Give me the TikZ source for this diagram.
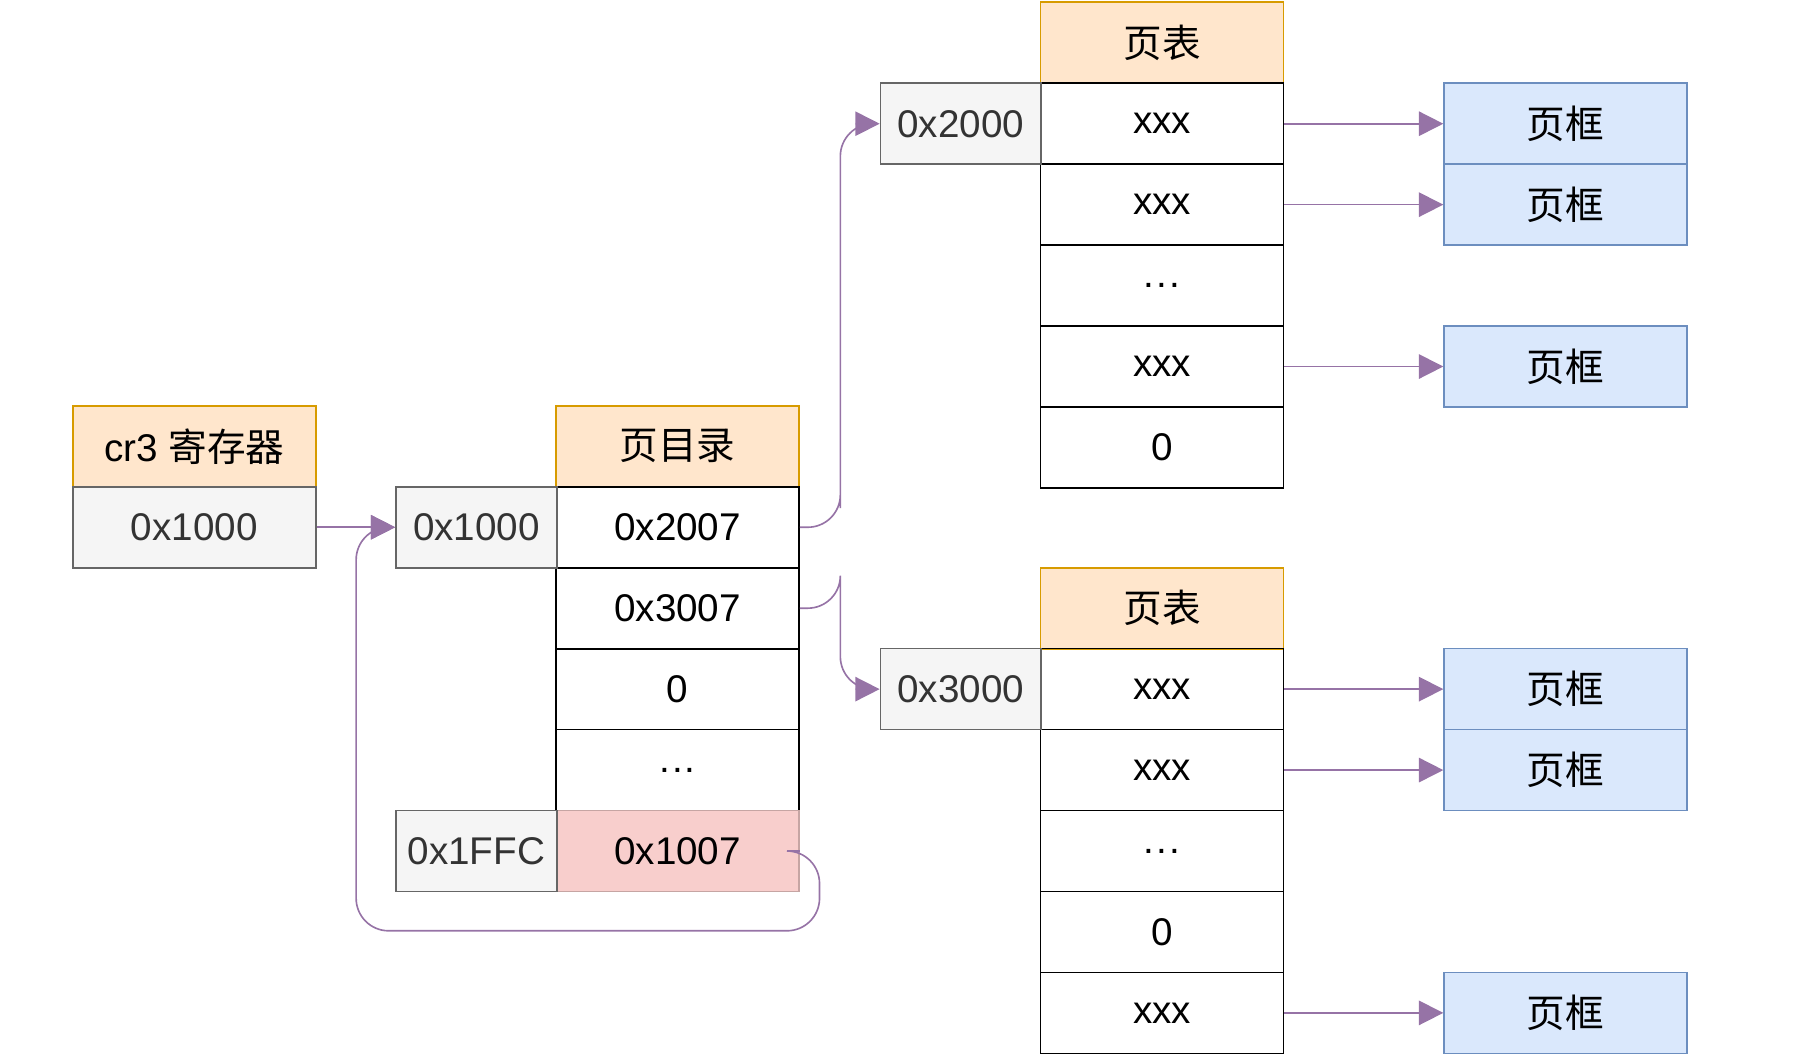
\documentclass[tikz,border=0pt]{standalone}
\usepackage{fontspec}
\setmainfont{Liberation Sans}
\newfontfamily\cjk{Noto Sans CJK SC}
\usetikzlibrary{arrows.meta,positioning}
\definecolor{hdfill}{HTML}{FFE6CC}\definecolor{hdline}{HTML}{D79B00}
\definecolor{adfill}{HTML}{F5F5F5}\definecolor{adline}{HTML}{666666}
\definecolor{pkfill}{HTML}{F8CECC}
\definecolor{frfill}{HTML}{DAE8FC}\definecolor{frline}{HTML}{6C8EBF}
\definecolor{arr}{HTML}{9673A6}
\newcommand{\dts}{.\kern0.5pt.\kern0.5pt.}
\tikzset{
  cell/.style={draw,minimum width=2.1cm,minimum height=0.7cm,inner sep=0pt,font=\fontsize{9.5}{11}\selectfont},
  head/.style={cell,fill=hdfill,draw=hdline,font=\fontsize{9.5}{11}\selectfont\cjk},
  addr/.style={cell,minimum width=1.39cm,fill=adfill,draw=adline,text=black!80},
  frame/.style={cell,fill=frfill,draw=frline,font=\fontsize{9.5}{11}\selectfont\cjk},
  link/.style={draw=arr,-{Triangle[length=6pt,width=6pt]},rounded corners=8pt}
}
\begin{document}
\begin{tikzpicture}[x=0.01cm,y=-0.01cm]
\useasboundingbox (0,0) rectangle (1555,913);
% cr3
\node[head,font=\fontsize{9.5}{11}\selectfont] (cr3) at (168,386) {cr3 {\cjk 寄存器}};
\node[addr,minimum width=2.1cm] (cr3v) at (168,456) {0x1000};
% page directory
\node[head] (dirh) at (586,386) {页目录};
\foreach \t [count=\n] in {0x2007,0x3007,0,\dts,0x1007}
  \node[cell] (dir\n) at (586,386+70*\n) {\t};
\node[cell,fill=pkfill,draw=pkfill!80!black] at (dir5) {0x1007};
\node[addr] (d1) at (412,456) {0x1000};
\node[addr] (d5) at (412,736) {0x1FFC};
% page table 1
\node[head] (tah) at (1005,37) {页表};
\foreach \t [count=\n] in {xxx,xxx,\dts,xxx,0}
  \node[cell] (ta\n) at (1005,37+70*\n) {\t};
\node[addr] (a1) at (831,107) {0x2000};
% page table 2
\node[head] (tbh) at (1005,526) {页表};
\foreach \t [count=\n] in {xxx,xxx,\dts,0,xxx}
  \node[cell] (tb\n) at (1005,526+70*\n) {\t};
\node[addr] (b1) at (831,596) {0x3000};
% frames
\foreach \r in {1,2,4}{
  \node[frame] (fa\r) at (1354,37+70*\r) {页框};
  \draw[link] (ta\r) -- (fa\r);}
\foreach \r in {1,2,5}{
  \node[frame] (fb\r) at (1354,526+70*\r) {页框};
  \draw[link] (tb\r) -- (fb\r);}
% links
\draw[link] (cr3v) -- (d1);
\draw[link] (dir1.east) -| ++(35,0) |- (a1.west);
\draw[link] (dir2.east) -| ++(35,0) |- (b1.west);
\coordinate (loop) at (308,805);
\draw[link] (dir5.east) -- ++(17,0) |- (loop) |- (d1.west);
\end{tikzpicture}
\end{document}
